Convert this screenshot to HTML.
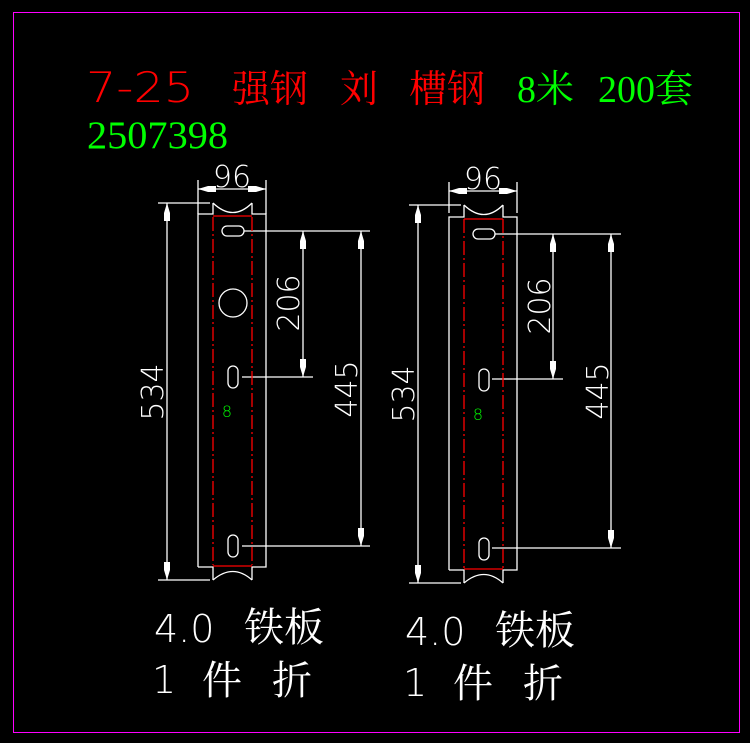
<!DOCTYPE html>
<html><head><meta charset="utf-8"><style>
html,body{margin:0;padding:0;background:#000;width:750px;height:743px;overflow:hidden}
svg{display:block}
.cad{font-family:"DejaVu Sans ExtraLight","DejaVu Sans","Liberation Sans",sans-serif;font-weight:200}
.cj{font-family:"Liberation Serif","Noto Serif CJK SC",serif}
</style></head><body>
<svg width="750" height="743" viewBox="0 0 750 743" xmlns="http://www.w3.org/2000/svg">
<rect x="13.5" y="12.5" width="726" height="720" fill="none" stroke="#ff00ff" stroke-width="1"/>
<!-- title -->
<text x="86" y="102" fill="#ff0000" class="cad" font-size="42" textLength="108" lengthAdjust="spacingAndGlyphs">7-25</text>
<text x="232" y="102" fill="#ff0000" class="cj" font-size="38">强钢</text>
<text x="340" y="102" fill="#ff0000" class="cj" font-size="38">刘</text>
<text x="409" y="102" fill="#ff0000" class="cj" font-size="38">槽钢</text>
<text x="517" y="102" fill="#00ff00" class="cj" font-size="38">8米</text>
<text x="598" y="102" fill="#00ff00" class="cj" font-size="38">200套</text>
<text x="87" y="148" fill="#00ff00" class="cj" font-size="39" textLength="141" lengthAdjust="spacingAndGlyphs">2507398</text>

<g fill="none" stroke="#fff" stroke-width="1.3">
<path d="M198,567 V214 H213 V203 M252,203 V214 H266 V567 H252 V580 M213,580 V567 H198"/>
<path d="M213,203 Q233,222 252,203"/>
<path d="M213,580 Q233,563 252,580"/>
<rect x="222" y="226" width="22" height="10" rx="5"/>
<circle cx="233" cy="303" r="14"/>
<rect x="228" y="366" width="10" height="22" rx="5"/>
<rect x="228" y="535" width="10" height="22" rx="5"/>
<path d="M198,180 V214 M266,180 V214 M198,189 H266"/>
<path d="M158,203 H210 M158,580 H210 M167,203 V580"/>
<path d="M244,231 H370 M242,377 H313 M242,546 H370 M303,231 V377 M361,231 V546"/>
<path d="M449,570 V217 H464 V205 M503,205 V217 H517 V570 H503 V583 M464,583 V570 H449"/>
<path d="M464,205 Q484,224 503,205"/>
<path d="M464,583 Q484,566 503,583"/>
<rect x="473" y="229" width="22" height="10" rx="5"/>
<rect x="479" y="369" width="10" height="22" rx="5"/>
<rect x="479" y="538" width="10" height="22" rx="5"/>
<path d="M449,182 V213 M517,182 V213 M449,191 H517"/>
<path d="M409,205 H461 M409,583 H461 M418,205 V583"/>
<path d="M495,234 H621 M492,379 H563 M492,548 H621 M553,234 V379 M611,234 V548"/>
</g>
<g stroke="#ff0000" stroke-width="1.3" stroke-dasharray="14,3,2,3" fill="none">
<path d="M213,217 V565 M252,217 V565"/>
<path d="M464,219 V568 M503,219 V568"/>
</g>
<path d="M213,216 H252 M213,566 H252 M464,219 H503 M464,569 H503" stroke="#ff0000" stroke-width="1.3"/>
<g fill="#fff">
<path d="M198,189 l10,-3 h8 v6 h-8 z M266,189 l-10,-3 h-8 v6 h8 z"/>
<path d="M449,191 l10,-3 h8 v6 h-8 z M517,191 l-10,-3 h-8 v6 h8 z"/>
<path d="M167,203 l-3,10 v8 h6 v-8 z M167,580 l-3,-10 v-8 h6 v8 z"/>
<path d="M418,205 l-3,10 v8 h6 v-8 z M418,583 l-3,-10 v-8 h6 v8 z"/>
<path d="M303,231 l-3,10 v8 h6 v-8 z M303,377 l-3,-10 v-8 h6 v8 z"/>
<path d="M361,231 l-3,10 v8 h6 v-8 z M361,546 l-3,-10 v-8 h6 v8 z"/>
<path d="M553,234 l-3,10 v8 h6 v-8 z M553,379 l-3,-10 v-8 h6 v8 z"/>
<path d="M611,234 l-3,10 v8 h6 v-8 z M611,548 l-3,-10 v-8 h6 v8 z"/>
</g>
<g fill="#fff" class="cad" font-size="30">
<text x="232" y="187" text-anchor="middle">96</text>
<text x="483" y="189" text-anchor="middle">96</text>
<text transform="translate(163,392) rotate(-90)" text-anchor="middle">534</text>
<text transform="translate(414,394) rotate(-90)" text-anchor="middle">534</text>
<text transform="translate(299,303) rotate(-90)" text-anchor="middle">206</text>
<text transform="translate(550,306) rotate(-90)" text-anchor="middle">206</text>
<text transform="translate(357,389) rotate(-90)" text-anchor="middle">445</text>
<text transform="translate(608,391) rotate(-90)" text-anchor="middle">445</text>
</g>
<text x="227" y="417" fill="#00ff00" class="cad" font-size="16" text-anchor="middle">8</text>
<text x="478" y="420" fill="#00ff00" class="cad" font-size="16" text-anchor="middle">8</text>
<g fill="#fff">
<text x="154" y="642" class="cad" font-size="38">4.0</text>
<text x="244" y="641" class="cj" font-size="40">铁板</text>
<text x="152" y="693" class="cad" font-size="38">1</text>
<text x="202" y="694" class="cj" font-size="40">件</text>
<text x="272" y="694" class="cj" font-size="40">折</text>
<text x="405" y="645" class="cad" font-size="38">4.0</text>
<text x="495" y="644" class="cj" font-size="40">铁板</text>
<text x="403" y="696" class="cad" font-size="38">1</text>
<text x="453" y="697" class="cj" font-size="40">件</text>
<text x="523" y="697" class="cj" font-size="40">折</text>
</g>
</svg>
</body></html>
